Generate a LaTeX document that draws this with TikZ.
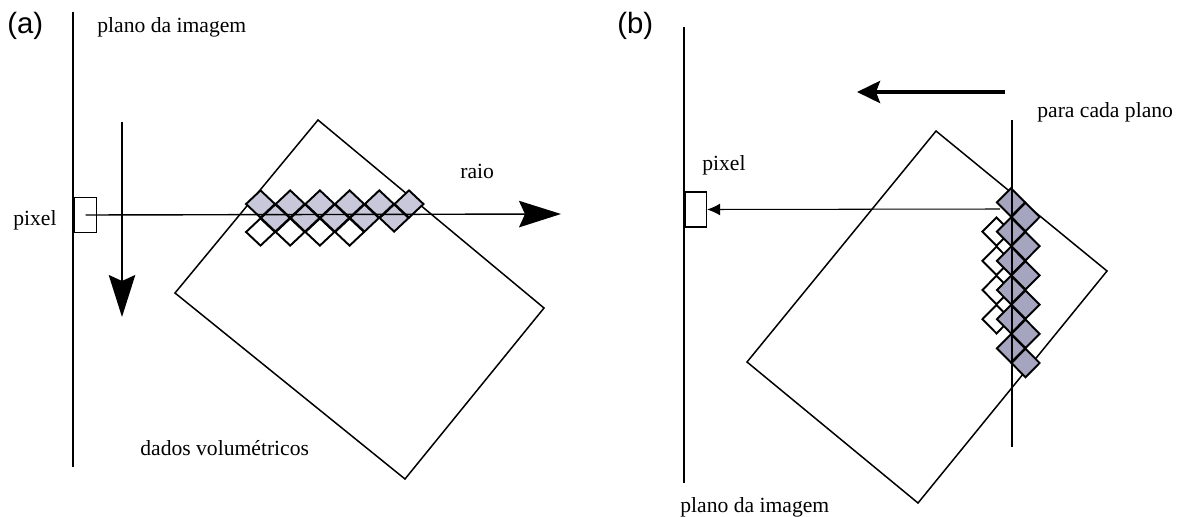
\documentclass[tikz,border=0pt]{standalone}
\usepackage{fontspec}
\setmainfont{Liberation Serif}
\newfontfamily\labelfont{Liberation Sans}
\usetikzlibrary{arrows.meta, shapes.geometric}
\definecolor{voxlight}{RGB}{200, 200, 218}
\definecolor{voxdark}{RGB}{165, 165, 192}

\begin{document}
\begin{tikzpicture}[
    x=0.2mm, y=-0.2mm,
    txt/.style={font=\fontsize{12.3}{14}\selectfont, inner sep=0pt},
    panel/.style={font=\labelfont\fontsize{16.7}{18}\selectfont, inner sep=0pt},
    plane/.style={line width=0.8pt},
    volume/.style={line width=0.85pt},
    pixbox/.style={draw, line width=0.7pt, minimum width=4.5mm, minimum height=6.9mm, inner sep=0pt},
    voxel/.style={draw, diamond, line width=1.1pt, inner sep=0pt,
                  minimum width=5.94mm, minimum height=5.6mm},
    voxelb/.style={voxel, minimum width=5.8mm, minimum height=5.84mm},
    bigarrow/.style={-{Stealth[length=8.4mm, width=5.3mm, inset=1.2mm]}, line width=0.8pt},
    thinarrow/.style={-{Latex[length=2.6mm, width=2.4mm]}, line width=0.6pt},
    fatarrow/.style={-{Stealth[length=4.6mm, width=4.4mm, inset=0.8mm]}, line width=2.2pt},
]
  \useasboundingbox (0,0) rectangle (1181,516);

  % (a) ray casting
  \node[panel, anchor=base west] (la) at (7,34) {(a)};
  \coordinate (pa1) at (73,12);
  \coordinate (pa2) at (73,467);
  \draw[plane] (pa1) -- (pa2);
  \node[txt, anchor=base west] (pta) at (97,33) {plano da imagem};
  \node[pixbox] (pxa) at (85.5,215) {};
  \node[txt, anchor=base west] (pxla) at (13,225) {pixel};

  \coordinate (va1) at (318,120);
  \coordinate (va2) at (544,308);
  \coordinate (va3) at (405,479);
  \coordinate (va4) at (175,293);
  \draw[volume] (va1) -- (va2) -- (va3) -- (va4) -- cycle;
  \node[txt, anchor=base west] (dv) at (140,455) {dados volumétricos};

  \foreach \k in {0,...,3}
    \node[voxel, fill=white] (ca\k) at (260.5+29.7*\k, 232) {};
  \foreach \k in {0,...,4}
    \node[voxel, fill=voxlight] (ba\k) at (275.35+29.7*\k, 218) {};
  \foreach \k in {0,...,5}
    \node[voxel, fill=voxlight] (aa\k) at (260.5+29.7*\k, 204) {};

  \coordinate (ra) at (561,214);
  \draw[bigarrow] (pxa.center) -- (ra);
  \node[txt, anchor=base west] (lra) at (460,178) {raio};

  \coordinate (da1) at (122,122);
  \coordinate (da2) at (122,317);
  \draw[bigarrow] (da1) -- (da2);

  % (b) plano a plano
  \node[panel, anchor=base west] (lb) at (617,34) {(b)};
  \coordinate (pb1) at (684,27);
  \coordinate (pb2) at (684,483);
  \draw[plane] (pb1) -- (pb2);
  \node[txt, anchor=base west] (ptb) at (680,512) {plano da imagem};
  \node[pixbox, minimum width=4.2mm, minimum height=7mm] (pxb) at (696,209.5) {};
  \node[txt, anchor=base west] (pxlb) at (702,170) {pixel};

  \coordinate (vb1) at (936,131);
  \coordinate (vb2) at (1107,271);
  \coordinate (vb3) at (918,503);
  \coordinate (vb4) at (747,362);
  \draw[volume] (vb1) -- (vb2) -- (vb3) -- (vb4) -- cycle;

  \foreach \k in {0,...,3}
    \node[voxelb, fill=white] (lb\k) at (996.5, 231.6+29.2*\k) {};
  \foreach \k in {0,...,5}
    \node[voxelb, fill=voxdark] (mb\k) at (1011, 202.4+29.2*\k) {};
  \foreach \k in {0,...,5}
    \node[voxelb, fill=voxdark] (rb\k) at (1025.5, 217+29.2*\k) {};

  \coordinate (cb1) at (1012,120);
  \coordinate (cb2) at (1012,447);
  \draw[plane] (cb1) -- (cb2);
  \node[txt, anchor=base west] (pcp) at (1037,118) {para cada plano};

  \coordinate (rb) at (1000,209);
  \draw[thinarrow] (rb) -- (pxb.east);

  \coordinate (fb1) at (1005,92);
  \coordinate (fb2) at (857,92);
  \draw[fatarrow] (fb1) -- (fb2);
\end{tikzpicture}
\end{document}
